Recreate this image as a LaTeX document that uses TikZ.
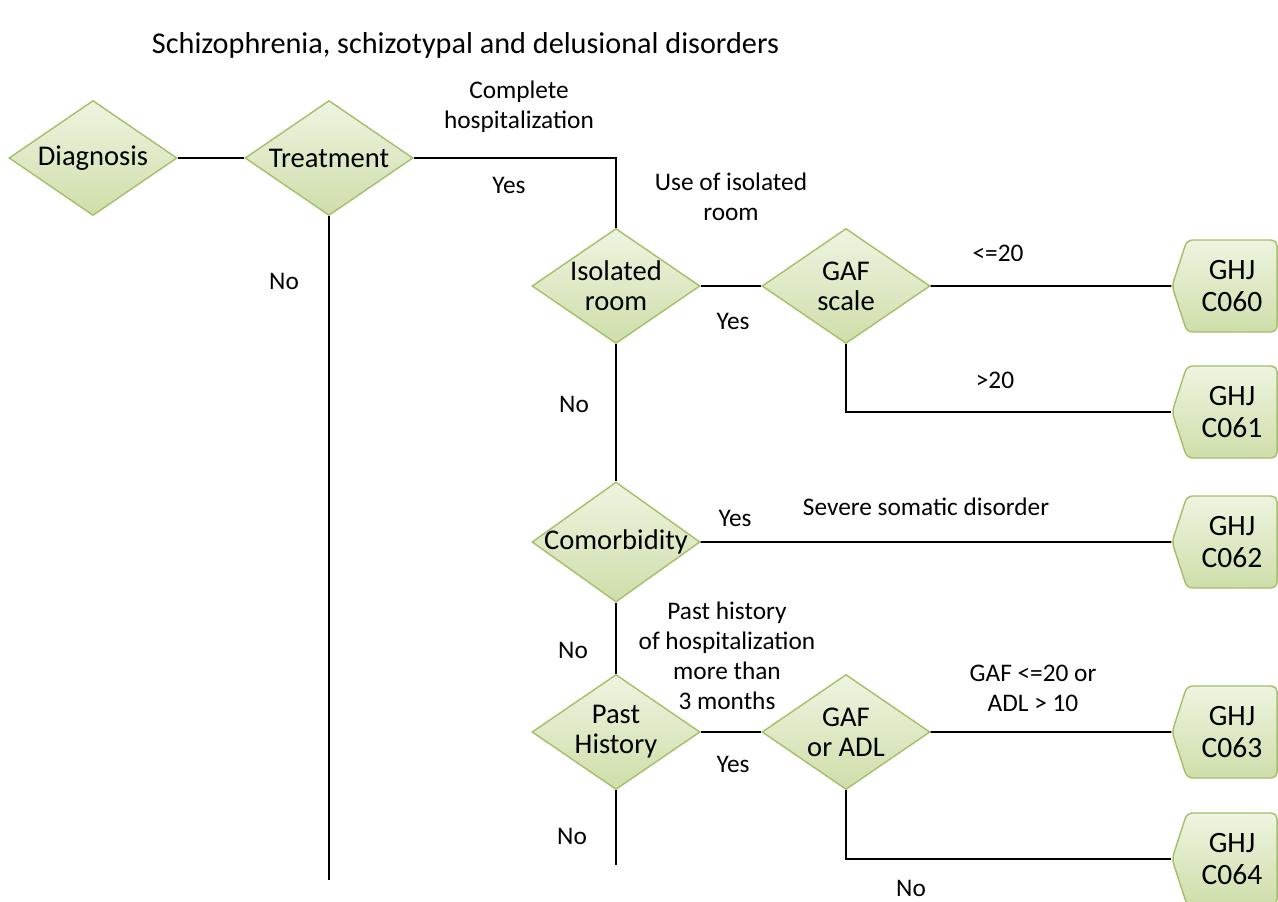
\documentclass[tikz,border=0pt]{standalone}
\usepackage{fontspec}
\setmainfont{Carlito}
\usetikzlibrary{shapes.geometric,shapes.symbols,positioning}
\definecolor{leafline}{RGB}{165,190,105}
\definecolor{leaftop}{RGB}{238,244,224}
\definecolor{leafbot}{RGB}{206,222,170}
\tikzset{
	dec/.style={diamond,draw=leafline,line width=1pt,top color=leaftop,bottom color=leafbot,minimum width=4.2cm,minimum height=2.875cm,inner sep=-0.3cm,align=center,font=\fontsize{20.3}{21.3}\selectfont},
	code/.style={signal,signal to=west,signal pointer angle=144,draw=leafline,line width=1pt,top color=leaftop,bottom color=leafbot,rounded corners=4pt,minimum width=2.625cm,minimum height=2.3cm,inner sep=1pt,align=center,font=\fontsize{21}{22.5}\selectfont},
	lbl/.style={align=center,font=\fontsize{18}{21.3}\selectfont},
	wire/.style={line width=1.3pt}
}

\begin{document}
\begin{tikzpicture}[x=0.025cm,y=-0.025cm]
			\useasboundingbox (0,0) rectangle (1278,902);
			\node[anchor=west,font=\fontsize{21.5}{24}\selectfont] (title) at (147,45) {Schizophrenia, schizotypal and delusional disorders};
			
			\node[dec] (diag) at (93,158) {Diagnosis};
			\node[dec] (treat) at (329,158) {Treatment};
			\node[dec] (iso) at (616,286) {Isolated\\room};
			\node[dec] (gafsc) at (846,286) {GAF\\scale};
			\node[dec] (comor) at (616,542) {Comorbidity};
			\node[dec] (past) at (616,732) {Past\\History};
			\node[dec] (gafadl) at (846,732) {GAF\\or ADL};
			
			\node[code] (c60) at (1232,286) {GHJ\\C060};
			\node[code] (c61) at (1232,412) {GHJ\\C061};
			\node[code] (c62) at (1232,542) {GHJ\\C062};
			\node[code] (c63) at (1232,732) {GHJ\\C063};
			\node[code] (c64) at (1232,859) {GHJ\\C064};
			
			\node[coordinate] (tend) at (329,880) {}; % open end below treatment
			\node[coordinate] (pend) at (616,865) {}; % open end below past history
			
			\node[lbl] (lhosp) at (519,107) {Complete\\hospitalization};
			\node[lbl] (lyes1) at (509,185) {Yes};
			\node[lbl] (lno1) at (284,281) {No};
			\node[lbl] (lroom) at (731,197) {Use of isolated\\room};
			\node[lbl] (lyes2) at (733,321) {Yes};
			\node[lbl] (lle20) at (998,253) {<=20};
			\node[lbl] (lgt20) at (995,380) {>20};
			\node[lbl] (lno2) at (574,404) {No};
			\node[lbl] (lyes3) at (735,518) {Yes};
			\node[lbl] (lsev) at (926,507) {Severe somatic disorder};
			\node[lbl] (lno3) at (573,650) {No};
			\node[lbl] (lhist) at (727,656) {Past history\\of hospitalization\\more than\\3 months};
			\node[lbl] (lyes4) at (733,764) {Yes};
			\node[lbl] (lgaf) at (1033,688) {GAF <=20 or\\ADL > 10};
			\node[lbl] (lno4) at (911,888) {No};
			\node[lbl] (lno5) at (572,836) {No};
			
			\draw[wire] (diag) -- (treat);
			\draw[wire] (treat) -| (iso);
			\draw[wire] (treat) -- (tend);
			\draw[wire] (iso) -- (gafsc);
			\draw[wire] (gafsc) -- (c60);
			\draw[wire] (gafsc) |- (c61);
			\draw[wire] (iso) -- (comor);
			\draw[wire] (comor) -- (c62);
			\draw[wire] (comor) -- (past);
			\draw[wire] (past) -- (gafadl);
			\draw[wire] (gafadl) -- (c63);
			\draw[wire] (gafadl) |- (c64);
			\draw[wire] (past) -- (pend);
		\end{tikzpicture}
\end{document}
